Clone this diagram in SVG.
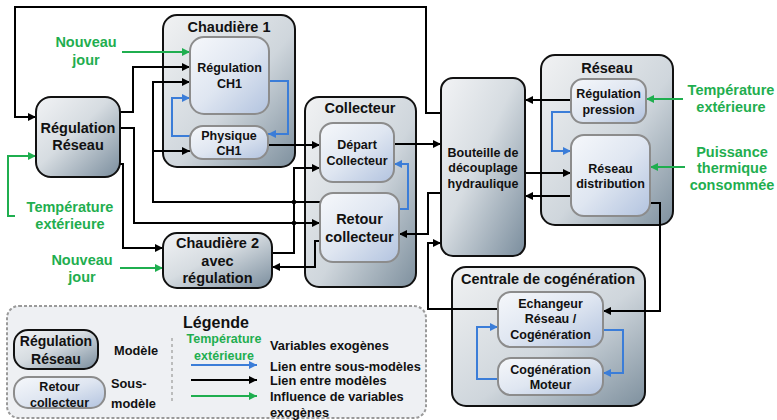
<svg xmlns="http://www.w3.org/2000/svg" width="777" height="420" viewBox="0 0 777 420">
<defs>
<linearGradient id="gModel" x1="0" y1="0" x2="1" y2="1">
<stop offset="0" stop-color="#f2f3f5"/><stop offset="0.45" stop-color="#d6dce1"/><stop offset="1" stop-color="#7a8d9d"/>
</linearGradient>
<linearGradient id="gGroup" x1="0" y1="0" x2="1" y2="1">
<stop offset="0" stop-color="#f1f2f3"/><stop offset="0.55" stop-color="#cfd6dc"/><stop offset="1" stop-color="#7e909e"/>
</linearGradient>
<linearGradient id="gSub" x1="0" y1="0" x2="1" y2="1">
<stop offset="0" stop-color="#f6f8fb"/><stop offset="0.5" stop-color="#dfe6f1"/><stop offset="1" stop-color="#b2c3df"/>
</linearGradient>
<marker id="aK" viewBox="0 0 10 10" refX="10" refY="5" markerWidth="9" markerHeight="8" markerUnits="userSpaceOnUse" orient="auto"><path d="M0,0 L10,5 L0,10 z" fill="#000"/></marker>
<marker id="aB" viewBox="0 0 10 10" refX="10" refY="5" markerWidth="9" markerHeight="8" markerUnits="userSpaceOnUse" orient="auto"><path d="M0,0 L10,5 L0,10 z" fill="#3b7dd8"/></marker>
<marker id="aG" viewBox="0 0 10 10" refX="10" refY="5" markerWidth="9" markerHeight="8" markerUnits="userSpaceOnUse" orient="auto"><path d="M0,0 L10,5 L0,10 z" fill="#1fae4f"/></marker>
<style>
.grp{fill:url(#gGroup);stroke:#111;stroke-width:2}
.mdl{fill:url(#gModel);stroke:#111;stroke-width:2}
.sub{fill:url(#gSub);stroke:#8c8c8c;stroke-width:2}
text{font-family:"Liberation Sans",Arial,sans-serif;font-weight:bold;text-anchor:middle;fill:#111}
.t{font-size:14.5px}
.s{font-size:12.5px}
.g{fill:#1fae4f;font-size:14.5px}
.lg{font-size:12.8px;text-anchor:start}
.k{fill:none;stroke:#000;stroke-width:2;marker-end:url(#aK)}
.kn{fill:none;stroke:#000;stroke-width:2}
.b{fill:none;stroke:#3b7dd8;stroke-width:2;marker-end:url(#aB)}
.gr{fill:none;stroke:#1fae4f;stroke-width:2;marker-end:url(#aG)}
</style>
</defs>
<rect width="777" height="420" fill="#fff"/>

<g id="chaudiere1">
<rect class="grp" x="163" y="15" width="132" height="152" rx="14"/>
<text class="t" x="229" y="32">Chaudière 1</text>
</g>
<g id="collecteur">
<rect class="grp" x="305" y="97" width="111" height="190" rx="14"/>
<text class="t" x="360" y="113">Collecteur</text>
</g>
<g id="reseau">
<rect class="grp" x="541" y="55" width="132" height="170" rx="14"/>
<text class="t" x="607" y="73">Réseau</text>
</g>
<g id="centrale">
<rect class="grp" x="452" y="267" width="193" height="139" rx="14"/>
<text class="t" x="548" y="284">Centrale de cogénération</text>
</g>

<g id="connectors">
<path class="k" d="M441,113 H426 V7 H15 V117 H36"/>
<path class="k" d="M120,112 H133 V67 H190"/>
<path class="k" d="M120,128 H134 V223 H320"/>
<path class="k" d="M120,164 H123 V248 H163"/>
<path class="k" d="M320,202 H153 V82 H190"/>
<path class="k" d="M153,151 H190"/>
<path class="k" d="M268,145 H320"/>
<path class="k" d="M272,253 H294 V168 H320"/>
<circle cx="294" cy="202" r="2.3" fill="#000"/>
<circle cx="294" cy="223" r="2.3" fill="#000"/>
<path class="k" d="M320,241 H315 V267 H272"/>
<path class="k" d="M394,144 H441"/>
<path class="k" d="M441,193 H428 V234 H399"/>
<path class="k" d="M498,309 H428 V243 H441"/>
<path class="k" d="M571,100 H525"/>
<path class="k" d="M525,173 H571"/>
<path class="k" d="M571,196 H525"/>
<path class="k" d="M650,203 H660 V311 H603"/>
<path class="b" d="M269,81 H288 V134 H268"/>
<path class="b" d="M190,136 H172 V98 H190"/>
<path class="b" d="M399,209 H408 V164 H394"/>
<path class="b" d="M571,112 H552 V151 H571"/>
<path class="b" d="M603,330 H623 V373 H603"/>
<path class="b" d="M498,379 H477 V327 H498"/>
<path class="gr" d="M122,52 H190"/>
<path class="gr" d="M15,216 H8 V156 H36"/>
<path class="gr" d="M120,268 H163"/>
<path class="gr" d="M683,99 H646"/>
<path class="gr" d="M685,167 H650"/>
</g>

<g id="regulation-reseau">
<rect class="mdl" x="36" y="97" width="84" height="80" rx="15"/>
<text class="t" x="78" y="133">Régulation</text>
<text class="t" x="78" y="150">Réseau</text>
</g>
<g id="chaudiere2">
<rect class="mdl" x="163" y="233" width="109" height="55" rx="14"/>
<text class="t" x="217.5" y="248">Chaudière 2</text>
<text class="t" x="217.5" y="266">avec</text>
<text class="t" x="217.5" y="283">régulation</text>
</g>
<g id="bouteille">
<rect class="mdl" x="441" y="78" width="84" height="178" rx="12"/>
<text class="s" x="483" y="156.5">Bouteille de</text>
<text class="s" x="483" y="172">découplage</text>
<text class="s" x="483" y="187.5">hydraulique</text>
</g>
<g id="regulation-ch1">
<rect class="sub" x="190" y="37" width="79" height="77" rx="14"/>
<text class="s" x="229.5" y="71.5">Régulation</text>
<text class="s" x="229.5" y="87.5">CH1</text>
</g>
<g id="physique-ch1">
<rect class="sub" x="190" y="126" width="78" height="33" rx="13"/>
<text class="s" x="229" y="139.5">Physique</text>
<text class="s" x="229" y="154.5">CH1</text>
</g>
<g id="depart-collecteur">
<rect class="sub" x="320" y="123" width="74" height="59" rx="13"/>
<text class="s" x="357" y="148.5">Départ</text>
<text class="s" x="357" y="164.5">Collecteur</text>
</g>
<g id="retour-collecteur">
<rect class="sub" x="320" y="193" width="79" height="69" rx="13"/>
<text class="t" x="359.5" y="224">Retour</text>
<text class="t" x="359.5" y="242">collecteur</text>
</g>
<g id="regulation-pression">
<rect class="sub" x="571" y="79" width="75" height="44" rx="12"/>
<text class="s" x="608.5" y="97.5">Régulation</text>
<text class="s" x="608.5" y="113.5">pression</text>
</g>
<g id="reseau-distribution">
<rect class="sub" x="571" y="135" width="79" height="81" rx="13"/>
<text class="s" x="610.5" y="172.5">Réseau</text>
<text class="s" x="610.5" y="187.5">distribution</text>
</g>
<g id="echangeur">
<rect class="sub" x="498" y="292" width="105" height="55" rx="13"/>
<text class="s" x="550.5" y="307.5">Echangeur</text>
<text class="s" x="550.5" y="323">Réseau /</text>
<text class="s" x="550.5" y="338.5">Cogénération</text>
</g>
<g id="cogeneration-moteur">
<rect class="sub" x="498" y="358" width="105" height="37" rx="13"/>
<text class="s" x="550.5" y="373.5">Cogénération</text>
<text class="s" x="550.5" y="388.5">Moteur</text>
</g>

<g id="exogenous-labels">
<text class="g" x="86" y="47">Nouveau</text>
<text class="g" x="86" y="65">jour</text>
<text class="g" x="70" y="212">Température</text>
<text class="g" x="70" y="229">extérieure</text>
<text class="g" x="82" y="265">Nouveau</text>
<text class="g" x="82" y="282">jour</text>
<text class="g" x="731" y="95">Température</text>
<text class="g" x="731" y="112">extérieure</text>
<text class="g" x="732" y="157">Puissance</text>
<text class="g" x="732" y="173">thermique</text>
<text class="g" x="732" y="190">consommée</text>
</g>

<g id="legende">
<rect x="7" y="306" width="419" height="112" rx="12" fill="#eef0f3" stroke="#9a9a9a" stroke-width="2" stroke-dasharray="3,2"/>
<text x="216" y="328" style="font-size:16px">Légende</text>
<rect class="mdl" x="14" y="330" width="84" height="39" rx="14"/>
<text x="56" y="346" style="font-size:14px">Régulation</text>
<text x="56" y="364" style="font-size:14px">Réseau</text>
<text class="lg" x="114" y="355">Modèle</text>
<rect class="sub" x="14" y="377" width="91" height="31" rx="14"/>
<text class="s" x="59.5" y="390.5">Retour</text>
<text class="s" x="59.5" y="406.5">collecteur</text>
<text class="lg" x="111" y="388">Sous-</text>
<text class="lg" x="111" y="408">modèle</text>
<line x1="172" y1="338" x2="172" y2="402" stroke="#aaa" stroke-width="1.5" stroke-dasharray="3,3"/>
<text x="224" y="342.5" style="font-size:12.5px;fill:#1fae4f">Température</text>
<text x="224" y="359.5" style="font-size:12.5px;fill:#1fae4f">extérieure</text>
<text class="lg" x="270" y="350">Variables exogènes</text>
<path class="b" d="M191,365 H257"/>
<text class="lg" x="270" y="371">Lien entre sous-modèles</text>
<path class="k" d="M191,380 H257"/>
<text class="lg" x="270" y="385">Lien entre modèles</text>
<path class="gr" d="M191,396 H257"/>
<text class="lg" x="270" y="401">Influence de variables</text>
<text class="lg" x="270" y="417">exogènes</text>
</g>
</svg>
